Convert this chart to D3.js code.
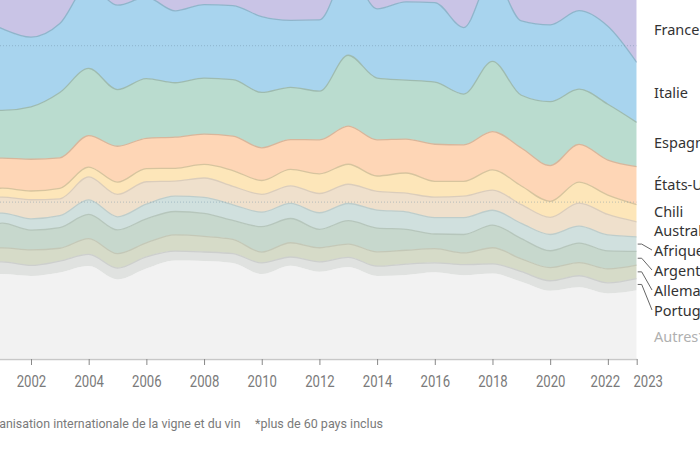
<!DOCTYPE html>
<html lang="fr">
<head>
<meta charset="UTF-8" />
<title>Production de vin par pays</title>
<style>
    body, html {
        margin: 0;
        padding: 0;
        overflow: hidden;
        background: #fff;
    }
    svg {
        display: block;
    }
    .tick text {
        font-family: Roboto, "Noto Sans", sans-serif;
        font-size: 16px;
        fill: #7a7a7a;
    }
    .label {
        font-family: "Noto Sans", sans-serif;
        font-size: 14.5px;
        fill: #333;
    }
    .footer {
        font-family: Roboto, "Noto Sans", sans-serif;
        font-size: 13px;
        fill: #7a7a7a;
    }
</style>
</head>
<body>
<svg width="700" height="450"></svg>

<script src="https://d3js.org/d3.v7.min.js"></script>
<script>
    // production de vin, en millions d'hectolitres
    const years = d3.range(2000, 2024);

    const france    = [57.5,53.4,50.4,46.4,57.4,52.1,52.1,45.7,42.7,46.4,44.4,50.8,41.5,42.1,46.5,47.0,45.4,36.4,49.2,42.2,46.7,37.6,45.6,48.0];
    const italie    = [54.1,52.3,44.6,44.1,53.1,54.0,52.0,46.0,47.0,47.3,48.5,42.8,45.6,54.0,44.2,50.0,50.9,42.5,54.8,47.5,49.1,50.2,49.8,38.3];
    const espagne   = [41.7,30.5,33.5,41.8,43.0,36.2,38.1,34.8,35.9,36.1,35.4,33.4,31.1,45.3,39.5,37.7,39.7,32.5,44.9,33.7,40.9,35.3,35.7,28.3];
    const etatsUnis = [21.5,19.2,20.3,19.5,20.1,22.9,19.4,19.9,19.3,22.0,20.9,19.1,21.7,24.4,23.1,21.7,23.7,23.3,24.5,24.3,22.8,24.1,22.4,24.3];
    const chili     = [6.4,5.7,5.6,6.7,6.3,7.9,8.4,8.2,8.7,10.1,8.8,10.5,12.6,12.8,9.9,12.9,10.1,9.5,12.9,11.9,10.3,13.4,12.4,11.0];
    const australie = [8.1,10.2,12.2,10.8,14.7,14.3,14.3,9.6,12.4,11.8,11.4,11.2,12.3,12.3,11.9,11.9,13.1,13.7,12.9,12.0,10.9,14.8,13.1,9.6];
    const afriqueSud= [6.9,6.5,7.2,7.6,9.3,8.4,9.4,9.8,10.2,10.0,9.3,9.7,10.6,11.0,11.5,11.2,10.5,10.8,9.5,9.7,10.4,10.8,10.2,9.3];
    const argentine = [12.5,15.8,12.7,13.2,15.5,15.2,15.4,15.0,14.7,12.1,16.3,15.5,11.8,15.0,15.2,13.4,9.4,11.8,14.5,13.0,10.8,12.5,11.5,8.8];
    const allemagne = [9.9,8.9,9.9,8.2,10.0,9.2,8.9,10.3,10.0,9.2,6.9,9.1,9.0,8.4,9.2,8.8,9.0,7.5,10.3,8.2,8.4,8.4,8.9,8.6];
    const portugal  = [6.7,7.8,6.7,7.3,7.5,7.3,7.5,6.1,5.7,5.9,7.1,5.6,6.3,6.2,6.2,7.0,6.0,6.7,6.1,6.5,6.4,7.4,6.8,7.5];
    const autres    = [53.0,54.0,52.8,55.0,59.1,50.5,57.5,62.6,62.4,61.1,54.0,59.3,55.5,58.5,52.8,53.4,55.2,53.3,54.4,49.0,43.3,45.5,41.6,43.6];

    const tickYears = [2002,2004,2006,2008,2010,2012,2014,2016,2018,2020,2022,2023];
    const gridValues = [100, 200];

    // du bas vers le haut
    const series = [
        { key: "autres",     name: "Autres*",        values: autres,     color: "#f2f2f2" },
        { key: "portugal",   name: "Portugal",       values: portugal,   color: "#e0e2e0" },
        { key: "allemagne",  name: "Allemagne",      values: allemagne,  color: "#d6dbc8" },
        { key: "argentine",  name: "Argentine",      values: argentine,  color: "#c7d8cd" },
        { key: "afriqueSud", name: "Afrique du Sud", values: afriqueSud, color: "#d0e0de" },
        { key: "australie",  name: "Australie",      values: australie,  color: "#efe0cc" },
        { key: "chili",      name: "Chili",          values: chili,      color: "#fde6b9" },
        { key: "etatsUnis",  name: "États-Unis",     values: etatsUnis,  color: "#fed6b6" },
        { key: "espagne",    name: "Espagne",        values: espagne,    color: "#badccf" },
        { key: "italie",     name: "Italie",         values: italie,     color: "#a8d4ee" },
        { key: "france",     name: "France",         values: france,     color: "#c9c4e6" }
    ];

    // position des libellés à droite
    const labelY = {
        france: 30, italie: 93, espagne: 143, etatsUnis: 185, chili: 212, australie: 231,
        afriqueSud: 251, argentine: 271, allemagne: 291, portugal: 311, autres: 337
    };
    const withLeader = ["afriqueSud", "argentine", "allemagne", "portugal"];

    const table = years.map((y, i) => {
        const row = { year: y };
        series.forEach(s => row[s.key] = s.values[i]);
        return row;
    });

    const svg = d3.select("svg");

    const x = d3.scaleLinear().domain([2000, 2023]).range([-26.7, 636.7]);
    const y = d3.scaleLinear().domain([0, 200]).range([358.5, 45.7]);

    const stacked = d3.stack().keys(series.map(s => s.key))(table);

    svg.append("clipPath").attr("id", "plot")
        .append("rect").attr("x", 0).attr("y", 0).attr("width", 636.7).attr("height", 359);

    const area = d3.area()
        .curve(d3.curveMonotoneX)
        .x(d => x(d.data.year))
        .y0(d => y(d[0]))
        .y1(d => y(d[1]));

    const topLine = d3.line()
        .curve(d3.curveMonotoneX)
        .x(d => x(d.data.year))
        .y(d => y(d[1]));

    const g = svg.append("g").attr("clip-path", "url(#plot)");

    g.selectAll("path.area")
        .data(stacked)
        .join("path")
        .attr("class", "area")
        .attr("fill", (d, i) => series[i].color)
        .attr("d", area);

    g.selectAll("path.edge")
        .data(stacked.slice(1))
        .join("path")
        .attr("class", "edge")
        .attr("fill", "none")
        .attr("stroke", (d, i) => d3.color(series[i + 1].color).darker(i < 5 ? 0.25 : 0.45))
        .attr("stroke-width", 1.3)
        .attr("d", topLine);

    // lignes de grille pointillées
    g.selectAll("line.grid")
        .data(gridValues)
        .join("line")
        .attr("class", "grid")
        .attr("x1", 0).attr("x2", 636.7)
        .attr("y1", d => y(d)).attr("y2", d => y(d))
        .attr("stroke", "#6f8fa6")
        .attr("stroke-opacity", 0.45)
        .attr("stroke-dasharray", "1,2");

    // axe des années
    const axis = svg.append("g")
        .attr("transform", `translate(0,${y(0) + 0.5})`)
        .call(d3.axisBottom(x).tickValues(tickYears).tickFormat(d3.format("d"))
            .tickSize(6).tickPadding(11).tickSizeOuter(0));
    axis.select(".domain").attr("stroke", "#c8c8c8").attr("stroke-width", 1.5);
    axis.selectAll(".tick line").attr("stroke", "#888");
    axis.selectAll(".tick text")
        .attr("textLength", 29.5)
        .attr("lengthAdjust", "spacingAndGlyphs")
        .attr("dx", d => d === 2023 ? 11 : (d === 2022 ? -3 : 0));

    // libellés des pays
    const last = years.length - 1;
    const labels = svg.append("g");
    series.forEach((s, i) => {
        labels.append("text")
            .attr("class", "label")
            .attr("x", 654)
            .attr("y", labelY[s.key])
            .attr("dy", "0.35em")
            .style("fill", s.key === "autres" ? "#b0b0b0" : "#333")
            .text(s.name);
        if (withLeader.includes(s.key)) {
            const seg = stacked[i][last];
            const mid = y((seg[0] + seg[1]) / 2);
            const x0 = x(2023) + 1;
            labels.append("path")
                .attr("fill", "none")
                .attr("stroke", "#666")
                .attr("stroke-width", 1)
                .attr("d", `M${x0},${mid}H${x0 + 4}L${652},${labelY[s.key] - 1}`);
        }
    });

    // source
    svg.append("text")
        .attr("class", "footer")
        .attr("x", -68).attr("y", 428)
        .attr("textLength", 308.5)
        .attr("lengthAdjust", "spacingAndGlyphs")
        .text("Source : Organisation internationale de la vigne et du vin");
    svg.append("text")
        .attr("class", "footer")
        .attr("x", 255).attr("y", 428)
        .attr("textLength", 128)
        .attr("lengthAdjust", "spacingAndGlyphs")
        .text("*plus de 60 pays inclus");
</script>
</body>
</html>
